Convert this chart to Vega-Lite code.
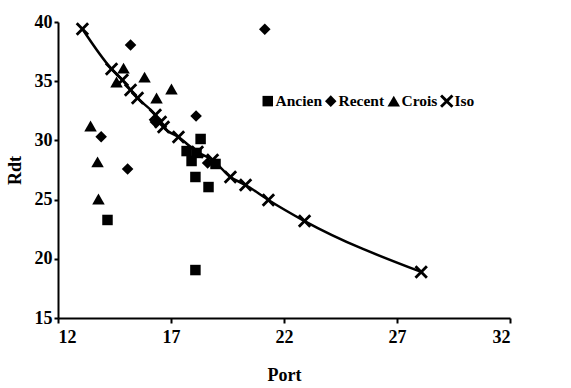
{
  "$schema": "https://vega.github.io/schema/vega-lite/v6.json",
  "width": 452,
  "height": 296,
  "autosize": "none",
  "padding": {"left": 58, "top": 22, "right": 61, "bottom": 70},
  "background": "white",
  "config": {
    "view": {"stroke": null},
    "font": "Liberation Serif",
    "axis": {
      "grid": false,
      "domainColor": "black",
      "domainWidth": 2,
      "tickColor": "black",
      "tickWidth": 2,
      "tickSize": 5,
      "labelFont": "Liberation Serif",
      "labelFontWeight": "bold",
      "labelFontSize": 18,
      "labelColor": "black",
      "titleFont": "Liberation Serif",
      "titleFontWeight": "bold",
      "titleFontSize": 18,
      "titleColor": "black"
    }
  },
  "data": {
    "values": [
      {"series": "Iso", "Port": 13.08, "Rdt": 39.41},
      {"series": "Iso", "Port": 14.37, "Rdt": 36.03},
      {"series": "Iso", "Port": 14.85, "Rdt": 35.10},
      {"series": "Iso", "Port": 15.21, "Rdt": 34.26},
      {"series": "Iso", "Port": 15.52, "Rdt": 33.58},
      {"series": "Iso", "Port": 16.31, "Rdt": 32.15},
      {"series": "Iso", "Port": 16.54, "Rdt": 31.55},
      {"series": "Iso", "Port": 16.67, "Rdt": 31.13},
      {"series": "Iso", "Port": 17.33, "Rdt": 30.29},
      {"series": "Iso", "Port": 18.17, "Rdt": 29.02},
      {"series": "Iso", "Port": 18.84, "Rdt": 28.35},
      {"series": "Iso", "Port": 19.63, "Rdt": 26.91},
      {"series": "Iso", "Port": 20.30, "Rdt": 26.23},
      {"series": "Iso", "Port": 21.31, "Rdt": 24.97},
      {"series": "Iso", "Port": 22.91, "Rdt": 23.19},
      {"series": "Iso", "Port": 28.07, "Rdt": 18.89},
      {"series": "Crois", "Port": 14.90, "Rdt": 36.11},
      {"series": "Crois", "Port": 14.59, "Rdt": 34.93},
      {"series": "Crois", "Port": 15.83, "Rdt": 35.35},
      {"series": "Crois", "Port": 16.36, "Rdt": 33.58},
      {"series": "Crois", "Port": 17.02, "Rdt": 34.34},
      {"series": "Crois", "Port": 13.44, "Rdt": 31.22},
      {"series": "Crois", "Port": 13.75, "Rdt": 28.18},
      {"series": "Crois", "Port": 13.79, "Rdt": 25.05},
      {"series": "Recent", "Port": 15.21, "Rdt": 38.06},
      {"series": "Recent", "Port": 21.15, "Rdt": 39.38},
      {"series": "Recent", "Port": 18.11, "Rdt": 32.06},
      {"series": "Recent", "Port": 13.91, "Rdt": 30.31},
      {"series": "Recent", "Port": 15.08, "Rdt": 27.58},
      {"series": "Recent", "Port": 16.31, "Rdt": 31.55},
      {"series": "Recent", "Port": 18.62, "Rdt": 28.09},
      {"series": "Ancien", "Port": 18.31, "Rdt": 30.12},
      {"series": "Ancien", "Port": 17.69, "Rdt": 29.10},
      {"series": "Ancien", "Port": 18.13, "Rdt": 28.94},
      {"series": "Ancien", "Port": 17.91, "Rdt": 28.26},
      {"series": "Ancien", "Port": 18.97, "Rdt": 28.01},
      {"series": "Ancien", "Port": 18.08, "Rdt": 26.91},
      {"series": "Ancien", "Port": 18.66, "Rdt": 26.06},
      {"series": "Ancien", "Port": 14.19, "Rdt": 23.28},
      {"series": "Ancien", "Port": 18.08, "Rdt": 19.05}
    ]
  },
  "encoding": {
    "x": {
      "field": "Port", "type": "quantitative",
      "scale": {"domain": [12, 32], "nice": false, "zero": false},
      "axis": {"values": [12, 17, 22, 27, 32], "labelPadding": 5, "titlePadding": 20, "title": "Port"}
    },
    "y": {
      "field": "Rdt", "type": "quantitative",
      "scale": {"domain": [15, 40], "nice": false, "zero": false},
      "axis": {"values": [15, 20, 25, 30, 35, 40], "tickSize": 4, "labelPadding": 2, "titlePadding": 10, "title": "Rdt"}
    }
  },
  "layer": [
    {
      "transform": [{"filter": "datum.series === 'Iso'"}],
      "mark": {"type": "line", "color": "black", "strokeWidth": 2.5, "interpolate": "monotone"},
      "encoding": {"order": {"field": "Port", "type": "quantitative"}}
    },
    {
      "mark": {"type": "point", "filled": true, "color": "black", "opacity": 1},
      "encoding": {
        "size": {
          "field": "series", "type": "nominal",
          "scale": {"domain": ["Ancien", "Recent", "Crois", "Iso"], "range": [110, 180, 150, 110]}
        },
        "shape": {
          "field": "series", "type": "nominal",
          "scale": {
            "domain": ["Ancien", "Recent", "Crois", "Iso"],
            "range": ["square", "diamond", "triangle-up", "M-1,-0.7L-0.7,-1L0,-0.3L0.7,-1L1,-0.7L0.3,0L1,0.7L0.7,1L0,0.3L-0.7,1L-1,0.7L-0.3,0Z"]
          },
          "legend": {
            "title": null,
            "orient": "none",
            "direction": "horizontal",
            "legendX": 202,
            "legendY": 71,
            "labelFont": "Liberation Serif",
            "labelFontWeight": "bold",
            "labelFontSize": 15.5,
            "labelColor": "black",
            "labelOffset": 0,
            "columnPadding": 1,
            "symbolFillColor": "black",
            "symbolStrokeWidth": 0,
            "symbolOpacity": 1
          }
        }
      }
    }
  ]
}
